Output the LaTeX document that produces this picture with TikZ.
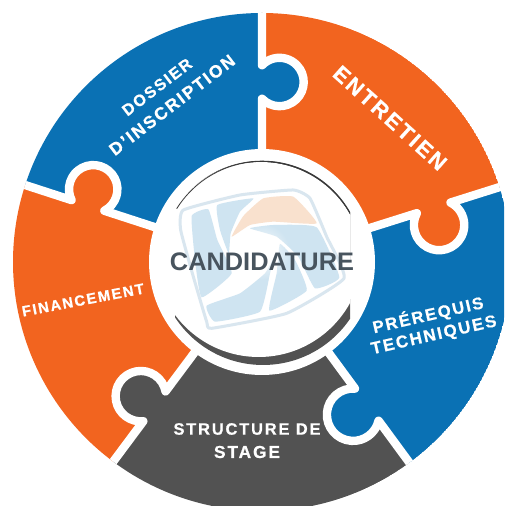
\documentclass[tikz,border=0pt]{standalone}
\usepackage{fontspec}
\usetikzlibrary{fadings}
\setmainfont{Liberation Sans}
\definecolor{pblue}{HTML}{0A71B4}
\definecolor{porange}{HTML}{F2641F}
\definecolor{pgrey}{HTML}{525252}
\definecolor{logoblue}{HTML}{CFE4F1}
\definecolor{logopeach}{HTML}{F9E1CE}
\definecolor{logoline}{HTML}{D9E6EF}
\definecolor{titlegrey}{HTML}{48545E}
\newcommand{\wedgepiece}[3]{\fill[#3] (262,244) -- ++(#1:249) arc[start angle=#1,end angle=#2,radius=249] -- cycle;}
% angle, radial position of neck, knob offset, knob radius, owner colour
\newcommand{\seam}[5]{%
  \pgfmathsetmacro{\Rb}{#4+4.2}%
  \pgfmathsetmacro{\wn}{sqrt(\Rb*\Rb-#3*#3)}%
  \pgfmathsetmacro{\bt}{atan(#3/\wn)}%
  \begin{scope}[shift={(262,244)},rotate=#1]
    \fill[#5] ({#2-\wn},1) -- ({#2-\wn},0) arc[start angle={180-\bt},end angle={360+\bt},radius=\Rb] -- ({#2+\wn},1) -- cycle;
    \draw[seamline] (90,0) -- ({#2-\wn},0) arc[start angle={180-\bt},end angle={360+\bt},radius=\Rb] -- (262,0);
  \end{scope}}
\tikzset{
  seamline/.style={white,line width=8.4pt,line join=round},
  label/.style={white,inner sep=0pt,font=\bfseries},
  logoblade/.style={fill=logoblue},
}
\tikzfading[name=centreglow,inner color=transparent!0,outer color=transparent!100]
\newcommand{\tracked}[2]{\resizebox{#1pt}{!}{\addfontfeature{LetterSpace=11,FakeBold=0.7}\bfseries #2}}
\begin{document}
\begin{tikzpicture}[x=1pt,y=1pt]
\clip (0,0) rectangle (504,506);
\fill[white] (0,0) rectangle (504,506);
\begin{scope}
  \clip (262,244) circle[radius=249];
  \wedgepiece{90}{162}{pblue}
  \wedgepiece{17.5}{90}{porange}
  \wedgepiece{162}{233.3}{porange}
  \wedgepiece{233.3}{306.3}{pgrey}
  \wedgepiece{-53.7}{17.5}{pblue}
  \seam{90}{180}{17.5}{20}{pblue}
  \seam{162}{183}{17}{20}{porange}
  \seam{17.5}{180}{18}{21}{porange}
  \seam{233.3}{180}{17}{21}{pgrey}
  \seam{306.3}{177}{17}{22}{pblue}
\end{scope}
\fill[white] (262,244) circle[radius=113];
% crescents
\begin{scope}
  \clip (175,100) rectangle (350,206);
  \fill[pgrey] (263,246) circle[radius=105];
  \fill[white] (258.7,253.2) circle[radius=104.2];
\end{scope}
\begin{scope}
  \clip (175,244) rectangle (350,360);
  \fill[pgrey!70!black] (262,244) circle[radius=101.3];
  \fill[white] (260.5,241.5) circle[radius=102.5];
  \draw[pgrey!70!black,line width=0.8pt] (262,244) ++(148:100.6) arc[start angle=148,end angle=25,radius=100.6];
\end{scope}
% logo, in the 3x crop coordinates
\begin{scope}[shift={(130,366)},xscale=1/3,yscale=-1/3]
  \draw[logoline,line width=3pt,line join=round] plot[smooth cycle,tension=0.25] coordinates {(160,210) (330,165) (490,150) (540,175) (590,290) (642,415) (470,520) (245,565) (230,545) (190,410) (152,270)};
  \fill[logoblade] plot[smooth cycle,tension=0.25] coordinates {(185,228) (235,208) (262,300) (305,400) (215,472) (195,360)};
  \fill[logoblade] plot[smooth cycle,tension=0.25] coordinates {(262,195) (370,175) (330,215) (302,280) (296,340) (270,270)};
  \fill[logopeach] plot[smooth cycle,tension=0.25] coordinates {(305,290) (340,228) (400,175) (490,170) (560,250) (430,245) (360,255)};
  \fill[logoblade] plot[smooth cycle,tension=0.25] coordinates {(360,265) (430,255) (560,262) (628,412) (555,445) (505,350) (440,290)};
  \fill[logoblade] plot[smooth cycle,tension=0.25] coordinates {(450,312) (495,360) (530,452) (418,512) (440,400)};
  \fill[logoblade] plot[smooth cycle,tension=0.25] coordinates {(230,497) (330,460) (405,400) (432,352) (420,400) (390,515) (255,545)};
  \fill[white,path fading=centreglow] (395,335) circle[radius=85];
\end{scope}
% texts
\node[inner sep=0pt,text=titlegrey] (title) at (262,244) {\resizebox{184pt}{!}{\bfseries CANDIDATURE}};
\node[label,rotate=37.5] (dossier) at (157,419) {\tracked{83}{DOSSIER}};
\node[label,rotate=37.5] (inscription) at (172,401) {\tracked{153}{D'INSCRIPTION}};
\node[label,rotate=-42] (entretien) at (390,388) {\tracked{144}{ENTRETIEN}};
\node[label,rotate=10.8] (financement) at (83,206) {\tracked{124}{FINANCEMENT}};
\node[label,rotate=13] (prerequis) at (428,191) {\tracked{113}{PRÉREQUIS}};
\node[label,rotate=12.8] (techniques) at (434,170) {\tracked{128}{TECHNIQUES}};
\node[label] (structure) at (247,77) {\tracked{147}{STRUCTURE DE}};
\node[label] (stage) at (247,54) {\tracked{66}{STAGE}};
\end{tikzpicture}
\end{document}
